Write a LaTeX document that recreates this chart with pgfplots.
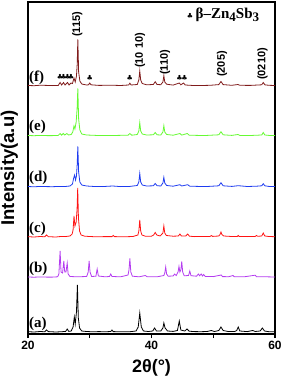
\documentclass[border=0pt]{standalone}
\usepackage{fontspec}
\setmainfont{Liberation Serif}
\newfontfamily\arial{Liberation Sans}
\newfontfamily\dejavu{DejaVu Sans}
\usepackage{pgfplots}
\pgfplotsset{compat=1.18}
\definecolor{cf}{RGB}{128,28,28}
\definecolor{ce}{RGB}{102,250,51}
\definecolor{cd}{RGB}{30,60,240}
\definecolor{cc}{RGB}{255,20,20}
\definecolor{cb}{RGB}{180,60,240}
\begin{document}
\begin{tikzpicture}
\path[use as bounding box] (-28pt,-47pt) rectangle (255pt,334pt);
\begin{axis}[
  scale only axis, width=247pt, height=332pt,
  xmin=20, xmax=60, ymin=0, ymax=332,
  axis line style={line width=1.3pt},
  ytick=\empty,
  xtick={20,30,40,50,60}, xticklabels={20,,40,,60},
  xtick pos=left, tick align=outside, major tick length=4pt,
  every tick/.style={black, line width=1.2pt},
  /pgf/number format/assume math mode=true,
  xticklabel style={font=\arial\bfseries\fontsize{12}{12}\selectfont},
  xlabel={2θ(°)},
  xlabel style={font=\arial\bfseries\fontsize{18}{18}\selectfont, at={(axis description cs:0.5,-0.102)}, anchor=center},
  ylabel={Intensity(a.u)},
  ylabel style={font=\arial\bfseries\fontsize{18.5}{18.5}\selectfont, at={(axis description cs:-0.076,0.5)}, anchor=center, rotate=0},
  clip=false,
]
% (a)
\addplot[black, line width=0.8pt] coordinates {
(20.0,2.3)(21.0,2.0)(22.0,2.5)(22.7,2.2)(23.0,4.0)(23.3,2.4)(24.5,2.0)(25.5,2.3)(26.1,2.6)(26.35,5)(26.6,2.6)(27.0,3)(27.3,7)(27.5,17)(27.65,10)(27.85,22)(28.0,49)(28.15,16)(28.35,6)(28.7,3)(29.5,2.5)(30.5,2.2)(31.5,2.4)(32.5,2.2)(33.4,2.5)(33.6,4)(33.8,2.4)(35.0,2.2)(36.5,2.3)(37.5,3)(37.85,7)(38.1,21)(38.35,7)(38.7,3)(39.5,2.5)(40.2,3)(40.5,6)(40.8,3)(41.5,3)(41.85,6)(42.0,11)(42.2,6)(42.6,3)(43.5,2.6)(44.2,3.5)(44.5,13)(44.75,4)(45.4,3)(45.75,5)(46.1,2.8)(47.0,2.4)(48.0,2.3)(49.0,2.5)(49.7,3.5)(50.2,2.5)(50.9,3.5)(51.25,7)(51.6,3.5)(52.5,2.4)(53.5,2.5)(53.8,3.5)(54.05,7)(54.3,3)(55.5,2.4)(56.4,3.5)(56.8,2.5)(57.6,3)(57.95,6)(58.3,3)(59.0,2.3)(60.0,2.2)};
% (b)
\addplot[cb, line width=0.8pt] coordinates {
(20.0,57.0)(21.0,56.8)(22.0,57.1)(23.0,56.9)(24.0,56.9)(24.8,57.2)(25.0,60)(25.2,83)(25.35,62)(25.6,61)(25.8,73)(25.95,62)(26.15,62)(26.35,71)(26.5,60)(26.8,57.5)(28.0,57.2)(29.5,57.5)(29.75,62)(29.9,73)(30.05,62)(30.3,57.5)(31.0,57.8)(31.2,65)(31.4,58)(32.5,57.2)(33.2,57.5)(33.4,60)(33.6,57.5)(35.0,57.2)(36.2,59)(36.35,64)(36.5,75.5)(36.65,62)(36.9,57.8)(38.0,57.2)(39.0,58.5)(39.3,57.2)(41.0,57.3)(42.0,58.5)(42.15,61)(42.3,67)(42.45,60)(42.7,57.8)(43.5,58)(43.75,60)(44.0,58.5)(44.3,62)(44.45,67.5)(44.6,62)(44.75,64)(44.9,72.5)(45.05,62)(45.3,58.2)(46.0,58.5)(46.2,63)(46.4,58.3)(47.3,57.8)(47.6,60)(47.8,58.2)(48.05,60)(48.25,58)(48.45,59.5)(48.7,57.6)(50.0,57.4)(51.3,59)(51.5,57.4)(52.5,57.3)(53.2,58.5)(53.4,57.3)(55.0,57.2)(56.8,58.8)(57.0,57.3)(58.5,57.2)(60.0,57.0)};
% (c)
\addplot[cc, line width=0.8pt] coordinates {
(20.0,97.3)(21.0,97.0)(22.0,97.5)(22.7,97.2)(23.0,99.0)(23.3,97.3)(24.5,97.0)(25.3,97.5)(26.0,97.4)(26.8,98.0)(27.15,100)(27.3,104)(27.45,118)(27.6,108)(27.8,112)(27.95,125)(28.05,146)(28.17,116)(28.35,103)(28.6,99)(29.2,97.8)(30.0,97.5)(31.0,97.2)(32.5,97.4)(33.6,97.4)(33.8,98.5)(34.0,97.4)(35.5,97.2)(37.0,97.5)(37.8,99)(37.95,103)(38.1,114)(38.25,103)(38.45,99)(39.0,97.8)(40.0,97.8)(40.35,99)(40.6,101.5)(40.85,99)(41.4,98)(41.85,101)(42.0,108)(42.15,101)(42.4,98.5)(43.5,97.8)(44.35,98)(44.6,100)(44.85,98)(45.55,98)(45.85,100)(46.15,97.8)(47.0,97.4)(48.5,97.5)(49.5,97.6)(49.7,98.5)(49.9,97.6)(50.9,98)(51.1,99.5)(51.25,102)(51.4,99.5)(51.7,98)(53.0,97.5)(53.9,97.6)(54.05,98.5)(54.2,97.6)(55.5,97.4)(56.8,97.6)(57.0,98.5)(57.2,97.7)(57.85,98)(58.1,101)(58.35,98)(59.0,97.5)(60.0,97.3)};
% (d)
\addplot[cd, line width=0.8pt] coordinates {
(20.0,147.5)(21.0,147.2)(22.0,147.6)(23.0,147.4)(24.0,147.3)(25.0,147.6)(26.0,147.5)(26.8,148)(27.2,150)(27.4,156)(27.55,159)(27.7,154)(27.85,158)(27.97,170)(28.07,187.5)(28.2,162)(28.4,152)(28.7,149)(29.5,148)(30.5,147.6)(32.0,147.4)(33.7,148)(35.0,147.4)(36.5,147.6)(37.7,148.5)(37.95,152)(38.1,160.5)(38.25,152)(38.5,149)(39.2,148)(40.3,148.2)(40.6,150.5)(40.9,148.3)(41.5,148)(41.85,151)(42.0,156.7)(42.15,151)(42.45,148.5)(43.5,147.8)(44.6,149.3)(44.9,148)(45.85,149.3)(46.2,147.8)(47.5,147.6)(49.0,147.5)(50.9,148.2)(51.25,151.3)(51.6,148.2)(53.0,147.6)(54.05,148.3)(55.5,147.5)(57.0,147.8)(57.85,148.2)(58.1,150.3)(58.35,148.2)(59.0,147.6)(60.0,147.4)};
% (e)
\addplot[ce, line width=0.8pt] coordinates {
(20.0,198.5)(21.0,198.3)(22.0,198.6)(23.0,198.4)(24.0,198.4)(24.9,198.6)(25.2,200.5)(25.45,198.8)(25.7,200.5)(25.95,199)(26.3,200.5)(26.55,199)(27.0,199.5)(27.25,202)(27.45,208)(27.6,205)(27.8,212)(27.95,225)(28.07,245.7)(28.2,215)(28.4,204)(28.7,200)(29.5,199)(31.0,198.6)(33.0,198.5)(34.5,198.6)(36.2,198.8)(36.5,200.5)(36.8,198.8)(37.7,199.5)(37.95,203)(38.1,211.3)(38.25,203)(38.5,200)(39.2,199)(40.3,199.2)(40.6,201.5)(40.9,199.2)(41.5,199)(41.85,202)(42.0,208.3)(42.15,202)(42.45,199.5)(43.5,198.8)(44.6,200.5)(44.9,198.9)(45.8,200.5)(46.1,198.8)(47.5,198.6)(49.0,198.6)(50.9,199.2)(51.25,202.3)(51.6,199.2)(53.0,198.6)(54.0,199.5)(54.3,198.6)(56.0,198.5)(57.85,199)(58.1,201.5)(58.35,199)(59.0,198.6)(60.0,198.4)};
% (f)
\addplot[cf, line width=0.8pt] coordinates {
(20.0,248.5)(21.0,248.3)(22.0,248.8)(23.0,248.6)(24.0,248.4)(24.9,248.6)(25.2,251.5)(25.45,249)(25.75,251.5)(26.0,249)(26.4,251.5)(26.65,249)(26.95,251)(27.2,250.5)(27.45,256)(27.65,252)(27.85,258)(27.97,270)(28.07,294.7)(28.2,262)(28.4,253)(28.7,250)(29.5,249)(29.8,249.2)(30.0,251)(30.2,249.2)(31.5,248.6)(33.5,248.8)(35.0,248.5)(36.3,249)(36.5,250.8)(36.7,249)(37.7,249.5)(37.95,254)(38.1,263)(38.25,254)(38.5,250.5)(39.2,249.2)(40.3,249.5)(40.6,252.3)(40.9,249.5)(41.5,249.3)(41.85,252)(42.0,258.3)(42.15,252)(42.45,249.8)(43.5,248.9)(44.5,251)(44.75,249.2)(45.2,251)(45.45,249)(46.5,248.6)(48.0,248.5)(49.5,248.7)(50.9,249.4)(51.25,252.5)(51.6,249.4)(53.0,248.7)(54.0,249.5)(54.3,248.7)(56.0,248.6)(57.85,249.2)(58.1,251.5)(58.35,249.2)(59.0,248.7)(60.0,248.5)};
% panel labels
\begin{scope}[every node/.style={anchor=west, inner sep=0pt, font=\bfseries\fontsize{15}{15}\selectfont}]
\node at (axis cs:20.15,10.5) {(a)};
\node at (axis cs:20.15,65) {(b)};
\node at (axis cs:20.15,105.5) {(c)};
\node at (axis cs:20.15,156) {(d)};
\node at (axis cs:20.15,207) {(e)};
\node at (axis cs:20.15,256.5) {(f)};
\end{scope}
% plane annotations
\begin{scope}[every node/.style={rotate=90, anchor=west, inner sep=1pt, font=\arial\bfseries\fontsize{11}{11}\selectfont}]
\node at (axis cs:27.98,296) {(115)};
\node at (axis cs:38.14,265) {(10 10)};
\node at (axis cs:42.19,258) {(110)};
\node at (axis cs:51.42,256) {(205)};
\node at (axis cs:58.0,253) {(0210)};
\end{scope}
% clubs
\begin{scope}[every node/.style={inner sep=0pt, font=\dejavu\fontsize{7}{7}\selectfont}]
\node at (axis cs:25.2,257) {♣};
\node at (axis cs:25.75,257) {♣};
\node at (axis cs:26.4,257) {♣};
\node at (axis cs:26.95,257) {♣};
\node at (axis cs:30.0,256) {♣};
\node at (axis cs:36.5,256) {♣};
\node at (axis cs:44.55,256.5) {♣};
\node at (axis cs:45.35,256.5) {♣};
\end{scope}
\node[anchor=west, inner sep=0pt, font=\bfseries\fontsize{15}{15}\selectfont] at (axis cs:45.7,319) {{\dejavu\fontsize{7}{7}\selectfont ♣}\,β–Zn\raisebox{-0.4ex}{\fontsize{13}{13}\selectfont 4}Sb\raisebox{-0.4ex}{\fontsize{13}{13}\selectfont 3}};
\end{axis}
\end{tikzpicture}
\end{document}
